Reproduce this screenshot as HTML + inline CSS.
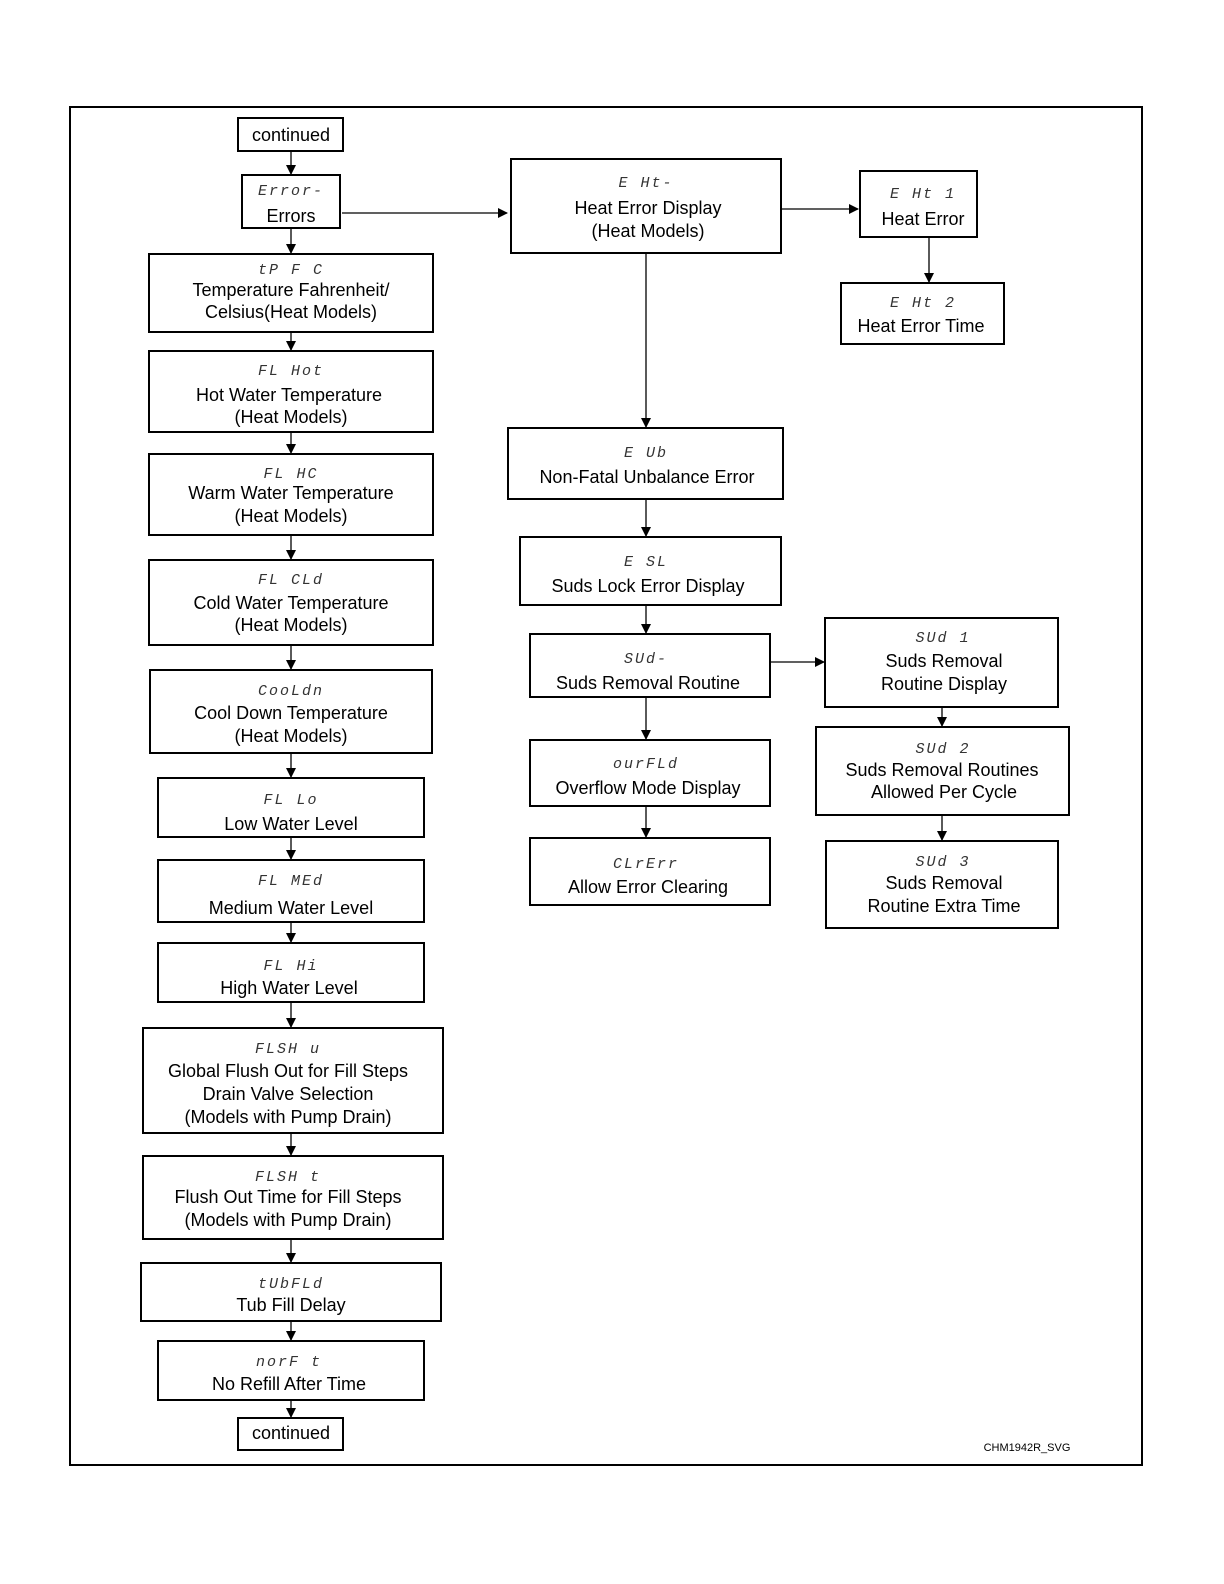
<!DOCTYPE html>
<html><head><meta charset="utf-8"><style>
html,body{margin:0;padding:0;background:#fff;overflow:hidden;width:1224px;height:1584px}
svg{display:block}
.l{font-family:"Liberation Sans",sans-serif;font-size:18px;fill:#000;text-anchor:middle}
.c{font-family:"Liberation Mono",monospace;font-style:italic;font-size:15px;fill:#333;text-anchor:middle;letter-spacing:2px}
rect{fill:#fff;stroke:#000;stroke-width:2}
line{stroke:#000;stroke-width:1.3}
</style></head><body>
<svg width="1224" height="1584" viewBox="0 0 1224 1584">
<defs><marker id="a" markerWidth="10" markerHeight="10" refX="9" refY="5" orient="auto" markerUnits="userSpaceOnUse"><path d="M0,0 L10,5 L0,10 z" fill="#000"/></marker></defs>
<rect x="70" y="107" width="1072" height="1358"/>
<g marker-end="url(#a)">
<line x1="291" y1="151" x2="291" y2="174"/>
<line x1="291" y1="228" x2="291" y2="253"/>
<line x1="291" y1="332" x2="291" y2="350"/>
<line x1="291" y1="432" x2="291" y2="453"/>
<line x1="291" y1="535" x2="291" y2="559"/>
<line x1="291" y1="645" x2="291" y2="669"/>
<line x1="291" y1="753" x2="291" y2="777"/>
<line x1="291" y1="837" x2="291" y2="859"/>
<line x1="291" y1="922" x2="291" y2="942"/>
<line x1="291" y1="1002" x2="291" y2="1027"/>
<line x1="291" y1="1133" x2="291" y2="1155"/>
<line x1="291" y1="1239" x2="291" y2="1262"/>
<line x1="291" y1="1321" x2="291" y2="1340"/>
<line x1="291" y1="1400" x2="291" y2="1417"/>
<line x1="342" y1="213" x2="507" y2="213"/>
<line x1="781" y1="209" x2="858" y2="209"/>
<line x1="929" y1="237" x2="929" y2="282"/>
<line x1="646" y1="253" x2="646" y2="427"/>
<line x1="646" y1="499" x2="646" y2="536"/>
<line x1="646" y1="605" x2="646" y2="633"/>
<line x1="646" y1="697" x2="646" y2="739"/>
<line x1="646" y1="806" x2="646" y2="837"/>
<line x1="770" y1="662" x2="824" y2="662"/>
<line x1="942" y1="707" x2="942" y2="726"/>
<line x1="942" y1="815" x2="942" y2="840"/>
</g>
<rect x="238" y="118" width="105" height="33"/>
<rect x="242" y="175" width="98" height="53"/>
<rect x="149" y="254" width="284" height="78"/>
<rect x="149" y="351" width="284" height="81"/>
<rect x="149" y="454" width="284" height="81"/>
<rect x="149" y="560" width="284" height="85"/>
<rect x="150" y="670" width="282" height="83"/>
<rect x="158" y="778" width="266" height="59"/>
<rect x="158" y="860" width="266" height="62"/>
<rect x="158" y="943" width="266" height="59"/>
<rect x="143" y="1028" width="300" height="105"/>
<rect x="143" y="1156" width="300" height="83"/>
<rect x="141" y="1263" width="300" height="58"/>
<rect x="158" y="1341" width="266" height="59"/>
<rect x="238" y="1418" width="105" height="32"/>
<rect x="511" y="159" width="270" height="94"/>
<rect x="860" y="171" width="117" height="66"/>
<rect x="841" y="283" width="163" height="61"/>
<rect x="508" y="428" width="275" height="71"/>
<rect x="520" y="537" width="261" height="68"/>
<rect x="530" y="634" width="240" height="63"/>
<rect x="530" y="740" width="240" height="66"/>
<rect x="530" y="838" width="240" height="67"/>
<rect x="825" y="618" width="233" height="89"/>
<rect x="816" y="727" width="253" height="88"/>
<rect x="826" y="841" width="232" height="87"/>
<text class="l" x="291" y="141">continued</text>
<text class="c" x="291" y="195">Error-</text><text class="l" x="291" y="222">Errors</text>
<text class="c" x="291" y="274">tP F C</text><text class="l" x="291" y="296">Temperature Fahrenheit/</text><text class="l" x="291" y="318">Celsius(Heat Models)</text>
<text class="c" x="291" y="375">FL Hot</text><text class="l" x="289" y="401">Hot  Water Temperature</text><text class="l" x="291" y="423">(Heat Models)</text>
<text class="c" x="291" y="478">FL HC</text><text class="l" x="291" y="499">Warm Water Temperature</text><text class="l" x="291" y="522">(Heat Models)</text>
<text class="c" x="291" y="584">FL CLd</text><text class="l" x="291" y="609">Cold Water Temperature</text><text class="l" x="291" y="631">(Heat Models)</text>
<text class="c" x="291" y="695">CooLdn</text><text class="l" x="291" y="719">Cool Down Temperature</text><text class="l" x="291" y="742">(Heat Models)</text>
<text class="c" x="291" y="804">FL Lo</text><text class="l" x="291" y="830">Low Water Level</text>
<text class="c" x="291" y="885">FL MEd</text><text class="l" x="291" y="914">Medium  Water Level</text>
<text class="c" x="291" y="970">FL Hi</text><text class="l" x="289" y="994">High Water Level</text>
<text class="c" x="288" y="1053">FLSH u</text><text class="l" x="288" y="1077">Global Flush Out for Fill Steps</text><text class="l" x="288" y="1100">Drain Valve Selection</text><text class="l" x="288" y="1123">(Models with Pump Drain)</text>
<text class="c" x="288" y="1181">FLSH t</text><text class="l" x="288" y="1203">Flush Out Time for Fill Steps</text><text class="l" x="288" y="1226">(Models with Pump Drain)</text>
<text class="c" x="291" y="1288">tUbFLd</text><text class="l" x="291" y="1311">Tub Fill Delay</text>
<text class="c" x="289" y="1366">norF t</text><text class="l" x="289" y="1390">No Refill After Time</text>
<text class="l" x="291" y="1439">continued</text>
<text class="c" x="646" y="187">E Ht-</text><text class="l" x="648" y="214">Heat Error Display</text><text class="l" x="648" y="237">(Heat Models)</text>
<text class="c" x="923" y="198">E Ht 1</text><text class="l" x="923" y="225">Heat Error</text>
<text class="c" x="923" y="307">E Ht 2</text><text class="l" x="921" y="332">Heat Error Time</text>
<text class="c" x="646" y="457">E Ub</text><text class="l" x="647" y="483">Non-Fatal Unbalance Error</text>
<text class="c" x="646" y="566">E SL</text><text class="l" x="648" y="592">Suds Lock Error Display</text>
<text class="c" x="646" y="663">SUd-</text><text class="l" x="648" y="689">Suds Removal Routine</text>
<text class="c" x="646" y="768">ourFLd</text><text class="l" x="648" y="794">Overflow Mode Display</text>
<text class="c" x="646" y="868">CLrErr</text><text class="l" x="648" y="893">Allow Error Clearing</text>
<text class="c" x="943" y="642">SUd 1</text><text class="l" x="944" y="667">Suds Removal</text><text class="l" x="944" y="690">Routine Display</text>
<text class="c" x="943" y="753">SUd 2</text><text class="l" x="942" y="776">Suds Removal Routines</text><text class="l" x="944" y="798">Allowed Per Cycle</text>
<text class="c" x="943" y="866">SUd 3</text><text class="l" x="944" y="889">Suds Removal</text><text class="l" x="944" y="912">Routine Extra Time</text>
<text x="1027" y="1451" style="font-family:'Liberation Sans',sans-serif;font-size:11px;text-anchor:middle">CHM1942R_SVG</text>
</svg>
</body></html>
